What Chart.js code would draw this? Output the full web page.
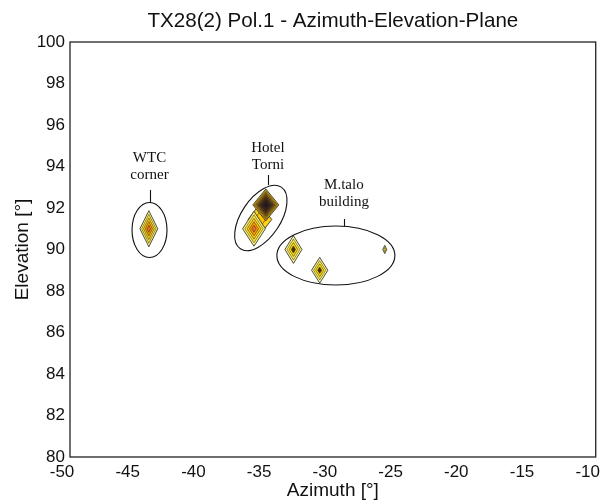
<!DOCTYPE html>
<html>
<head>
<meta charset="utf-8">
<script src="https://cdn.jsdelivr.net/npm/chart.js@4/dist/chart.umd.min.js"></script>
<style>
  html, body { margin: 0; padding: 0; background: #fff; }
  #wrap { width: 613px; height: 503px; }
</style>
</head>
<body>
<div id="wrap"><canvas id="aePlane"></canvas></div>
<script>
// axis ticks
const azimuthTicks = [-50, -45, -40, -35, -30, -25, -20, -15, -10];
const elevationTicks = [80, 82, 84, 86, 88, 90, 92, 94, 96, 98, 100];

// contour peaks (centre + half extent, in degrees)
const peakNames = ['WTC', 'Hotel bridge', 'Hotel low', 'Hotel high', 'M.talo 1', 'M.talo 2', 'M.talo 3'];
const peakAz    = [-44.0, -35.55, -36.0, -35.1, -33.0, -31.0, -26.05];
const peakEl    = [91.0, 91.45, 91.0, 92.15, 90.0, 89.0, 90.0];
const peakHalfAz = [0.68, 0.9, 0.87, 0.99, 0.65, 0.62, 0.15];
const peakHalfEl = [0.87, 0.75, 0.84, 0.77, 0.67, 0.62, 0.2];

// contour level colours, outer -> inner
const warmLevels = ['#fff57a', '#ffe63a', '#ffc810', '#ff9c00', '#e8702a'];
const goldLevels = ['#ffd21a', '#ffc000'];
const darkLevels = ['#f0c820', '#d0a010', '#b08010', '#906010', '#704818', '#583418', '#442818', '#36201a', '#2c1a16', '#241410'];
const paleLevels = ['#fff690', '#ffec48', '#ffd800', '#4a2c10'];
const tinyLevels = ['#fff690', '#ffd800'];
const peakLevels = [warmLevels, goldLevels, warmLevels, darkLevels, paleLevels, paleLevels, tinyLevels];

// annotation groups
const groupLabels = [['WTC', 'corner'], ['Hotel', 'Torni'], ['M.talo', 'building']];
const labelAz = [-43.95, -34.94, -29.16];
const labelEl = [94.41, 94.89, 93.11];
const leaderTopEl = [92.87, 93.59, 91.47];
const leaderBottomEl = [92.24, 93.11, 91.13];
const ringAz = [-43.95, -35.48, -29.77];
const ringEl = [90.94, 91.52, 89.71];

function diamond(az, el, ha, he) {
    return [
        {x: az, y: el + he},
        {x: az + ha, y: el},
        {x: az, y: el - he},
        {x: az - ha, y: el},
        {x: az, y: el + he}
    ];
}

const datasets = [];
peakAz.forEach(function(az, p) {
    const levels = peakLevels[p];
    const n = levels.length;
    levels.forEach(function(col, k) {
        const s = 1 - k / n;
        datasets.push({
            label: peakNames[p] + ' ' + k,
            data: diamond(az, peakEl[p], peakHalfAz[p] * s, peakHalfEl[p] * s),
            showLine: true,
            fill: 'shape',
            backgroundColor: col,
            borderColor: '#222',
            borderWidth: k == 0 ? 0.8 : 0.5,
            pointRadius: 0,
            tension: 0,
            order: -datasets.length
        });
    });
});

const ringStyle = [
    {rx: 17.5, ry: 27.5, rot: 0},
    {rx: 37, ry: 19.6, rot: -56.4},
    {rx: 59, ry: 29.5, rot: 0}
];

const extras = {
    id: 'extras',
    afterDatasetsDraw(chart) {
        const ctx = chart.ctx;
        const xs = chart.scales.x, ys = chart.scales.y;
        const a = chart.chartArea;
        ctx.save();
        // ellipses
        ctx.strokeStyle = '#111';
        ctx.lineWidth = 1.1;
        ringAz.forEach(function(az, i) {
            const st = ringStyle[i];
            ctx.beginPath();
            ctx.ellipse(xs.getPixelForValue(az), ys.getPixelForValue(ringEl[i]), st.rx, st.ry, st.rot * Math.PI / 180, 0, Math.PI * 2);
            ctx.stroke();
        });
        // leaders and labels
        ctx.font = '15px "Liberation Serif", "Times New Roman", serif';
        ctx.fillStyle = '#111';
        ctx.textAlign = 'center';
        ctx.textBaseline = 'middle';
        labelAz.forEach(function(az, i) {
            const x = xs.getPixelForValue(az);
            ctx.beginPath();
            ctx.moveTo(Math.round(x) + 0.5, ys.getPixelForValue(leaderTopEl[i]));
            ctx.lineTo(Math.round(x) + 0.5, ys.getPixelForValue(leaderBottomEl[i]));
            ctx.stroke();
            const y0 = ys.getPixelForValue(labelEl[i]);
            groupLabels[i].forEach(function(t, j) {
                ctx.fillText(t, x, y0 + j * 17);
            });
        });
        // frame
        ctx.strokeStyle = '#222';
        ctx.lineWidth = 1.3;
        ctx.strokeRect(a.left, a.top, a.right - a.left, a.bottom - a.top);
        // title
        ctx.font = '20.6px "Liberation Sans", Arial, sans-serif';
        ctx.fillStyle = '#111';
        ctx.textBaseline = 'alphabetic';
        ctx.fillText('TX28(2) Pol.1 - Azimuth-Elevation-Plane', (a.left + a.right) / 2, 27);
        ctx.restore();
    }
};

new Chart(document.getElementById('aePlane'), {
    type: 'scatter',
    data: { datasets: datasets },
    options: {
        responsive: true,
        maintainAspectRatio: false,
        animation: false,
        layout: { padding: { top: 42, right: 17, left: 0, bottom: 0 } },
        plugins: {
            legend: { display: false },
            tooltip: { enabled: false },
            title: { display: false }
        },
        scales: {
            x: {
                type: 'linear',
                min: -50, max: -10,
                afterBuildTicks: function(s) { s.ticks = azimuthTicks.map(v => ({value: v})); },
                afterFit: function(s) { s.height = 46; },
                grid: { display: false, drawTicks: false },
                border: { display: false },
                ticks: {
                    padding: 5,
                    labelOffset: -8,
                    color: '#111',
                    font: { family: '"Liberation Sans", Arial, sans-serif', size: 17 }
                },
                title: {
                    display: true,
                    text: 'Azimuth [°]',
                    color: '#111',
                    padding: { top: 0, bottom: 1 },
                    font: { family: '"Liberation Sans", Arial, sans-serif', size: 19, lineHeight: 1.2 }
                }
            },
            y: {
                type: 'linear',
                min: 80, max: 100,
                afterBuildTicks: function(s) { s.ticks = elevationTicks.map(v => ({value: v})); },
                afterFit: function(s) { s.width = 70; },
                grid: { display: false, drawTicks: false },
                border: { display: false },
                ticks: {
                    padding: 5,
                    color: '#111',
                    font: { family: '"Liberation Sans", Arial, sans-serif', size: 17 }
                },
                title: {
                    display: true,
                    text: 'Elevation [°]',
                    color: '#111',
                    padding: { top: 11, bottom: 0 },
                    font: { family: '"Liberation Sans", Arial, sans-serif', size: 19, lineHeight: 1.2 }
                }
            }
        }
    },
    plugins: [extras]
});
</script>
</body>
</html>
